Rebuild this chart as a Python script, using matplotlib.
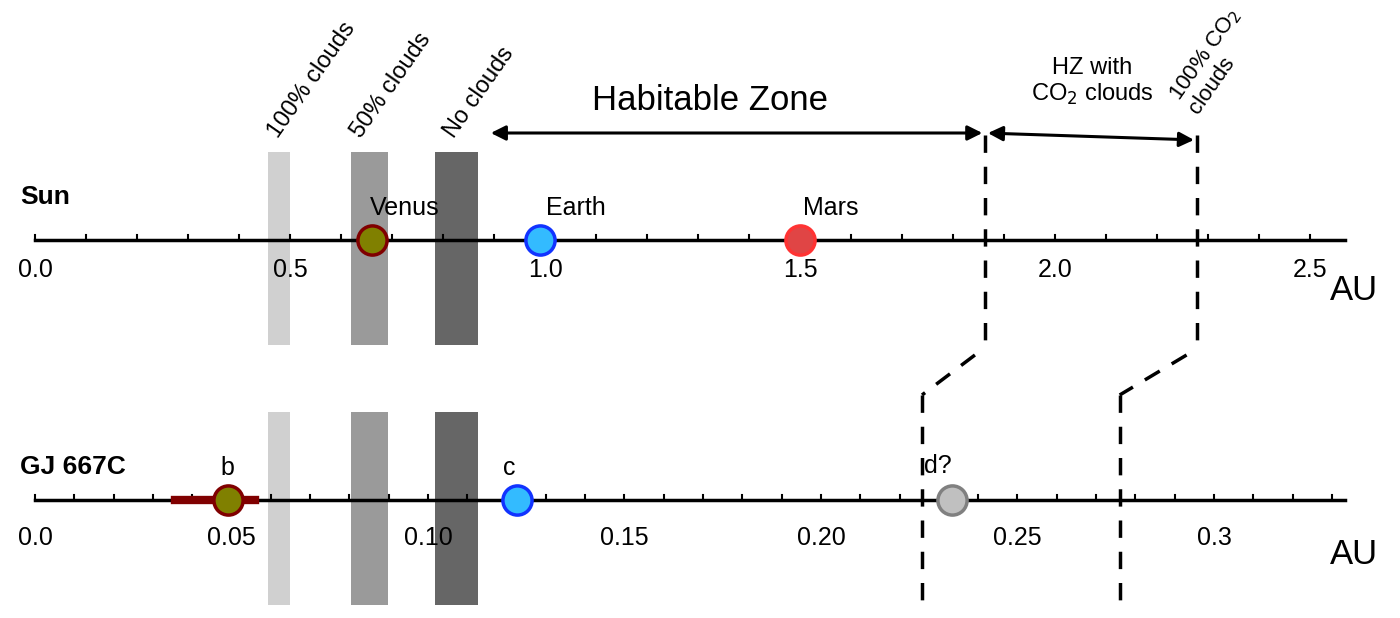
import matplotlib
matplotlib.use("Agg")
import matplotlib.pyplot as plt
import numpy as np

plt.rcParams['font.family'] = ['Liberation Sans', 'DejaVu Sans']
W, H = 1400, 618
sun_ticks = [0.0, 0.5, 1.0, 1.5, 2.0, 2.5]
sun_bands = [(0.457, 0.500), (0.620, 0.692), (0.784, 0.869)]
band_colors = ["#d0d0d0", "#9a9a9a", "#666666"]
sun_planets = ["Venus", "Earth", "Mars"]
sun_au = [0.66, 0.99, 1.50]
sun_face = ["#808000", "#33bbff", "#e04545"]
sun_edge = ["#800000", "#1133ff", "#ff3333"]
sun_hz_inner, sun_hz_co2 = 1.863, 2.278

gj_ticks = [0.0, 0.05, 0.10, 0.15, 0.20, 0.25, 0.3]
gj_tick_labels = ["0.0", "0.05", "0.10", "0.15", "0.20", "0.25", "0.3"]
gj_bands = [(0.0593, 0.0649), (0.0804, 0.0898), (0.1018, 0.1127)]
gj_planets = ["b", "c", "d?"]
gj_au = [0.049, 0.1227, 0.2333]
gj_face = ["#808000", "#33bbff", "#c0c0c0"]
gj_edge = ["#800000", "#1133ff", "#808080"]
gj_b_err = (0.0356, 0.056)
gj_hz_inner, gj_hz_co2 = 0.2257, 0.276

fig = plt.figure(figsize=(14, 6.18), dpi=100)
x0 = 35
def mk(scale):
    ax = fig.add_axes([0, 0, 1, 1])
    ax.set_xlim(-x0 / scale, (W - x0) / scale)
    ax.set_ylim(H, 0)
    ax.axis("off")
    ax.patch.set_alpha(0)
    return ax
a1 = mk(510.0)
a2 = mk(3930.0)

def axisline(ax, y, xmax, minor):
    ax.plot([0, xmax], [y, y], color="black", lw=2.5, zorder=2)
    for m in minor:
        ax.plot([m, m], [y - 5, y], color="black", lw=1.5, zorder=2)

axisline(a1, 240, 1310 / 510, np.arange(0, 2.57, 0.1))
axisline(a2, 500, 1310 / 3930, np.arange(0, 0.334, 0.01))

for ax, bands, ytop, ybot in [(a1, sun_bands, 152, 345), (a2, gj_bands, 412, 605)]:
    for (l, r), c in zip(bands, band_colors):
        ax.fill_between([l, r], ytop, ybot, color=c, lw=0, zorder=1)

for t in sun_ticks:
    a1.text(t, 270, f"{t:.1f}", fontsize=18, ha="center", va="center")
for t, lab in zip(gj_ticks, gj_tick_labels):
    a2.text(t, 538, lab, fontsize=18, ha="center", va="center")
fig.text(1330 / W, 1 - 290 / H, "AU", fontsize=25, va="center")
fig.text(1330 / W, 1 - 555 / H, "AU", fontsize=25, va="center")
fig.text(20 / W, 1 - 197 / H, "Sun", fontsize=19, weight="bold", va="center")
fig.text(20 / W, 1 - 467 / H, "GJ 667C", fontsize=19, weight="bold", va="center")

for n, a, f, e in zip(sun_planets, sun_au, sun_face, sun_edge):
    a1.plot(a, 240, "o", ms=21, mfc=f, mec=e, mew=2.5, zorder=4)
a1.text(sun_au[0] + 0.065, 208, "Venus", fontsize=18, ha="center", va="center", zorder=5)
a1.text(sun_au[1] + 0.07, 208, "Earth", fontsize=18, ha="center", va="center")
a1.text(sun_au[2] + 0.06, 208, "Mars", fontsize=18, ha="center", va="center")

a2.plot(gj_b_err, [500, 500], color="#800000", lw=6, zorder=3)
for n, a, f, e in zip(gj_planets, gj_au, gj_face, gj_edge):
    a2.plot(a, 500, "o", ms=21, mfc=f, mec=e, mew=2.5, zorder=4)
a2.text(gj_au[0], 468, "b", fontsize=18, ha="center", va="center")
a2.text(gj_au[1] - 0.002, 468, "c", fontsize=18, ha="center", va="center")
a2.text(gj_au[2] - 0.0035, 466, "d?", fontsize=18, ha="center", va="center")

for sa, ga in [(sun_hz_inner, gj_hz_inner), (sun_hz_co2, gj_hz_co2)]:
    a1.plot([sa, sa], [135, 352], color="black", lw=2.5, ls=(0, (5, 4)))
    a1.plot([sa - 0.02, (ga * 3930) / 510], [355, 395], color="black", lw=2.5, ls=(0, (5, 4)))
    a2.plot([ga, ga], [395, 605], color="black", lw=2.5, ls=(0, (5, 4)))

for xpx, s in [(282, "100% clouds"), (365, "50% clouds"), (458, "No clouds")]:
    fig.text(xpx / W, 1 - 142 / H, s, fontsize=17, rotation=55, ha="left", va="bottom",
             rotation_mode="anchor")
fig.text(1202 / W, 1 - 118 / H, "100% CO$_2$\nclouds", fontsize=16, rotation=55,
         ha="left", va="bottom", rotation_mode="anchor", linespacing=1.05)

a1.annotate("", xy=(sun_hz_inner, 133), xytext=((488 - x0) / 510, 133),
            arrowprops=dict(arrowstyle="<|-|>", color="black", lw=2.2, mutation_scale=22))
a1.annotate("", xy=(sun_hz_co2, 140), xytext=(sun_hz_inner, 133),
            arrowprops=dict(arrowstyle="<|-|>", color="black", lw=2.2, mutation_scale=22))
fig.text(710 / W, 1 - 100 / H, "Habitable Zone", fontsize=25, ha="center", va="center")
fig.text(1092 / W, 1 - 82 / H, "HZ with\nCO$_2$ clouds", fontsize=17, ha="center", va="center",
         linespacing=1.1)

fig.savefig("out.png", dpi=100)
